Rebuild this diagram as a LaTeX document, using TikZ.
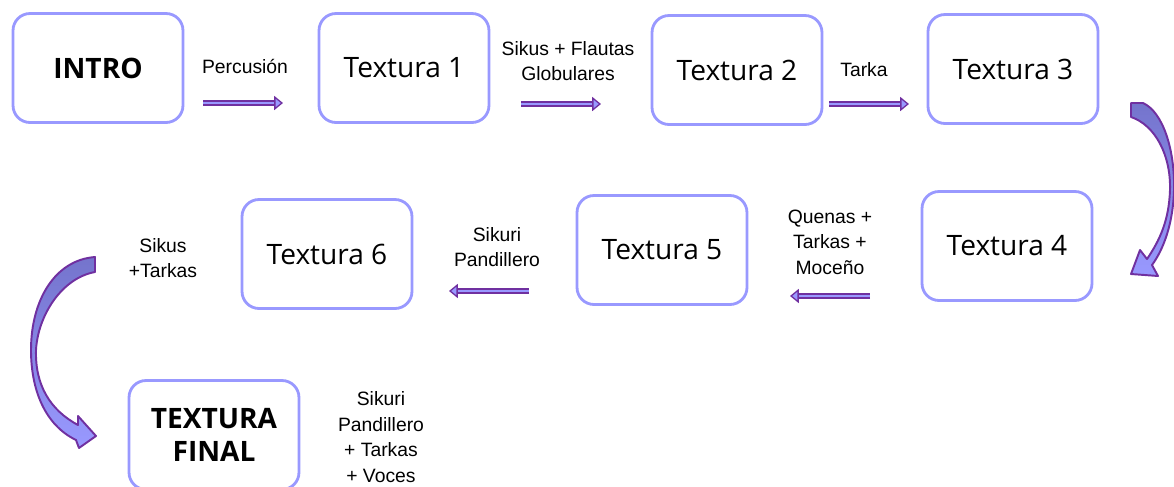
\documentclass[tikz,border=0pt]{standalone}
\usepackage{fontspec}
\setmainfont{Liberation Sans}
\newfontfamily\boxfont{Open Sans}
\usepackage{tikz}
\usepackage{xcolor}
\usetikzlibrary{positioning, arrows.meta}

\definecolor{borde}{HTML}{9999FF}
\definecolor{morado}{HTML}{7030A0}
\definecolor{lila}{HTML}{9999FF}
\definecolor{lilaosc}{HTML}{7474CC}

\begin{document}
\begin{tikzpicture}[x=0.02cm, y=-0.02cm,
    caja/.style={draw=borde, line width=1.6pt, rounded corners=0.34cm, fill=white,
      minimum width=3.4cm, minimum height=2.18cm, align=center,
      font=\boxfont\fontsize{16}{19}\selectfont},
    etiq/.style={align=center, font=\fontsize{11}{14.5}\selectfont},
    flecha/.style={draw=morado, line width=0.75pt, double=lila, double distance=1.6pt,
      -{Triangle[length=5pt, width=8pt, fill=lila, line join=miter]}},
    curva/.style={draw=morado, line width=1.1pt, line join=round,
      top color=lilaosc, bottom color=lila}]
\clip (0,0) rectangle (1174,487);
\useasboundingbox (0,0) rectangle (1174,487);

\node[caja] (intro) at (98, 68) {\bfseries INTRO};
\node[caja] (t1) at (404, 68) {Textura 1};
\node[caja] (t2) at (737, 70) {Textura 2};
\node[caja] (t3) at (1013, 69) {Textura 3};
\node[caja] (t4) at (1007, 246) {Textura 4};
\node[caja] (t5) at (662, 250) {Textura 5};
\node[caja] (t6) at (327, 254) {Textura 6};
\node[caja] (fin) at (214, 435) {\bfseries TEXTURA\\\bfseries FINAL};

\node[etiq] (l1) at (245, 66) {Percusión};
\node[etiq] (l2) at (568, 61) {Sikus + Flautas\\Globulares};
\node[etiq] (l3) at (864, 70) {Tarka};
\node[etiq] (l4) at (830, 242) {Quenas +\\Tarkas +\\Moceño};
\node[etiq] (l5) at (497, 247) {Sikuri\\Pandillero};
\node[etiq] (l6) at (163, 258) {Sikus\\+Tarkas};
\node[etiq] (l7) at (381, 437) {Sikuri\\Pandillero\\+ Tarkas\\+ Voces};

% flechas rectas
\coordinate (a1) at (203, 103);
\coordinate (b1) at (283, 103);
\coordinate (a2) at (521, 104);
\coordinate (b2) at (601, 104);
\coordinate (a3) at (829, 104);
\coordinate (b3) at (909, 104);
\coordinate (a4) at (870, 296);
\coordinate (b4) at (790, 296);
\coordinate (a5) at (529, 291);
\coordinate (b5) at (449, 291);
\draw[flecha] (a1) -- (b1);
\draw[flecha] (a2) -- (b2);
\draw[flecha] (a3) -- (b3);
\draw[flecha] (a4) -- (b4);
\draw[flecha] (a5) -- (b5);

% flechas curvas
\path[curva] (1131,103) -- (1143,103)
  .. controls (1163,112) and (1175,150) .. (1174,190)
  .. controls (1173,225) and (1163,250) .. (1152,265)
  -- (1158,276) -- (1131,274) -- (1140,250) -- (1147,259)
  .. controls (1160,240) and (1169,220) .. (1170,190)
  .. controls (1171,155) and (1155,125) .. (1131,117) -- cycle;
\path[curva] (95,257) -- (95,272)
  .. controls (62,278) and (38,315) .. (36,350)
  .. controls (35,385) and (50,410) .. (78,425)
  -- (78,416) -- (96,436) -- (79,448) -- (76,440)
  .. controls (45,425) and (31,390) .. (31,350)
  .. controls (31,300) and (55,260) .. (95,257) -- cycle;
\end{tikzpicture}
\end{document}
